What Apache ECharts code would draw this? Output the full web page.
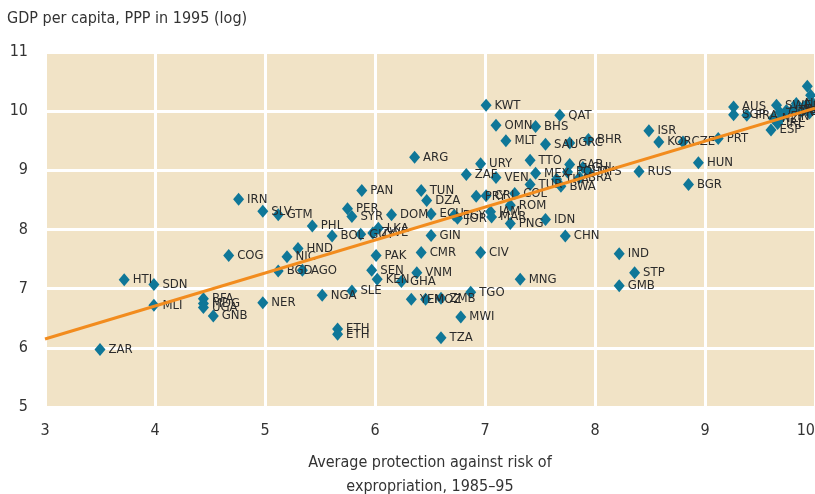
<!DOCTYPE html>
<html>
<head>
<meta charset="utf-8">
<script src="https://cdn.jsdelivr.net/npm/echarts@6/dist/echarts.min.js"></script>
<style>
  html, body { margin: 0; padding: 0; background: #fff; }
  #chart { width: 815px; height: 494px; }
</style>
</head>
<body>
<div id="chart"></div>
<script>
var codes = ['ZAR','HTI','SDN','MLI','BFA','MDG','UGA','GNB','COG','IRN',
  'NER','SLV','GTM','BGD','NIC','HND','AGO','PHL','NGA','BOL',
  'ETH','ETH','PER','SYR','SLE','PAN','GUY','SEN','ZWE','PAK',
  'KEN','LKA','DOM','GHA','YEM','ARG','VNM','TUN','CMR','MOZ',
  'DZA','ECU','GIN','ZMB','TZA','EGY','JOR','MWI','ZAF','TGO',
  'PRY','URY','CIV','KWT','CRI','JAM','MAR','OMN','VEN','MLT',
  'ROM','PNG','COL','MNG','TTO','TUR','BHS','MEX','SAU','IDN',
  'THA','QAT','BWA','CHN','POL','GAB','GRC','BRA','CHL','MYS',
  'BHR','IND','GMB','STP','RUS','ISR','KOR','CZE','BGR','HUN',
  'PRT','AUS','SGP','FRA','ESP','IRL','NZL','SWE','GBR','ITA',
  'FIN','NLD','DNK','BEL','CAN','CHE','USA','LUX','NOR','JPN','AUT'];

// average protection against risk of expropriation, 1985-95
var protection = [3.50,3.72,3.99,3.99,4.44,4.44,4.44,4.53,4.67,4.76,
  4.98,4.98,5.12,5.12,5.20,5.30,5.34,5.43,5.52,5.61,
  5.66,5.66,5.75,5.79,5.79,5.88,5.87,5.97,5.98,6.01,
  6.02,6.03,6.15,6.24,6.33,6.36,6.38,6.42,6.42,6.46,
  6.47,6.51,6.51,6.60,6.60,6.72,6.75,6.78,6.83,6.87,
  6.92,6.96,6.96,7.01,7.01,7.05,7.06,7.10,7.10,7.19,
  7.23,7.23,7.27,7.32,7.41,7.41,7.46,7.46,7.55,7.55,
  7.65,7.68,7.69,7.73,7.75,7.77,7.77,7.86,7.89,7.94,
  7.94,8.22,8.22,8.36,8.40,8.49,8.58,8.80,8.85,8.94,
  9.12,9.26,9.26,9.38,9.60,9.66,9.62,9.65,9.68,9.74,
  9.70,9.83,9.90,9.88,9.95,9.97,9.96,9.93,9.95,9.92,9.80];

// GDP per capita, PPP in 1995 (log)
var gdp = [5.97,7.15,7.07,6.72,6.83,6.75,6.68,6.54,7.56,8.51,
  6.76,8.31,8.25,7.30,7.54,7.68,7.31,8.06,6.89,7.89,
  6.32,6.23,8.35,8.22,6.96,8.66,7.92,7.31,7.94,7.56,
  7.16,8.02,8.25,7.12,6.82,9.22,7.27,8.66,7.61,6.82,
  8.49,8.26,7.90,6.84,6.17,8.24,8.19,6.52,8.93,6.94,
  8.56,9.11,7.61,10.10,8.57,8.30,8.21,9.76,8.88,9.50,
  8.41,8.10,8.61,7.16,9.17,8.76,9.74,8.95,9.44,8.17,
  8.85,9.93,8.73,7.89,8.97,9.10,9.46,8.88,9.05,8.98,
  9.52,7.59,7.05,7.27,8.98,9.67,9.48,9.48,8.76,9.13,
  9.54,10.07,9.94,9.93,9.68,9.79,9.88,10.10,9.98,10.01,
  9.90,10.13,10.07,10.00,10.05,10.15,10.27,10.42,9.97,10.10,10.03];

// fitted line end points
var fitX = [3, 10];
var fitY = [6.15, 10.05];

var xTicks = [3, 4, 5, 6, 7, 8, 9, 10];
var yTicks = [5, 6, 7, 8, 9, 10, 11];

// label nudges for crowded spots (pixels)
var labelShift = {
  BGD: [-8, 13], NGA: [-6, 10], GNB: [0, 6], MOZ: [-12, 11],
  JOR: [-2, 9], MAR: [0, 7], PNG: [-2, 11], BFA: [-4, -9],
  LKA: [-4, -7], YEM: [-4, -8], ZMB: [0, -6], PER: [-2, -4]
};

var font = '"DejaVu Sans Condensed", "Liberation Sans Narrow", sans-serif';

var points = codes.map(function (c, i) {
  var item = { name: c, value: [protection[i], gdp[i]] };
  if (labelShift[c]) item.label = { offset: labelShift[c] };
  return item;
});

var chart = echarts.init(document.getElementById('chart'));
chart.setOption({
  animation: false,
  title: {
    text: 'GDP per capita, PPP in 1995 (log)',
    left: 2, top: 6,
    textStyle: { fontFamily: font, fontSize: 16, fontWeight: 'normal', color: '#333' }
  },
  grid: {
    left: 45, right: 0, top: 52, bottom: 87,
    outerBoundsMode: 'none',
    show: true, backgroundColor: '#f1e3c6', borderWidth: 0
  },
  xAxis: {
    type: 'value', min: xTicks[0], max: xTicks[xTicks.length - 1], interval: 1,
    name: 'Average protection against risk of\nexpropriation, 1985–95',
    nameLocation: 'middle', nameGap: 44,
    nameTextStyle: { fontFamily: font, fontSize: 16, color: '#333', lineHeight: 24 },
    axisLine: { show: false }, axisTick: { show: false },
    axisLabel: { fontFamily: font, fontSize: 16, color: '#333', margin: 16, alignMaxLabel: 'right' },
    splitLine: { show: true, lineStyle: { color: '#fff', width: 3 } }
  },
  yAxis: {
    type: 'value', min: yTicks[0], max: yTicks[yTicks.length - 1], interval: 1,
    axisLine: { show: false }, axisTick: { show: false },
    axisLabel: { fontFamily: font, fontSize: 16, color: '#333', margin: 17 },
    splitLine: { show: true, lineStyle: { color: '#fff', width: 3 } }
  },
  series: [
    {
      type: 'scatter',
      symbol: 'diamond',
      symbolSize: [11, 13],
      itemStyle: { color: '#0f7798', opacity: 1 },
      label: {
        show: true, position: 'right', distance: 3,
        formatter: '{b}',
        fontFamily: font, fontSize: 13, color: '#2b2b2b'
      },
      labelLayout: { hideOverlap: false },
      data: points,
      z: 2
    },
    {
      type: 'line',
      symbol: 'none',
      silent: true,
      lineStyle: { color: '#f28c1e', width: 3 },
      data: fitX.map(function (x, i) { return [x, fitY[i]]; }),
      z: 3
    }
  ]
});
</script>
</body>
</html>
